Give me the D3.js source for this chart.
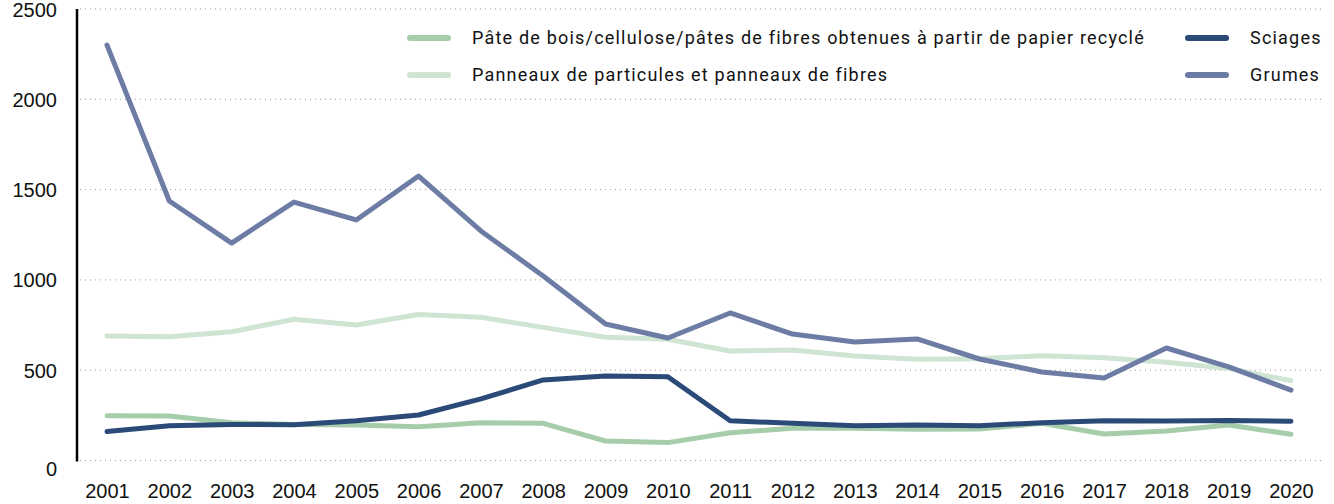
<!DOCTYPE html>
<html>
<head>
<meta charset="utf-8">
<script src="https://cdn.jsdelivr.net/npm/d3@7"></script>
<style>
  body { margin: 0; background: #fff; }
  svg { display: block; }
</style>
</head>
<body>
<div id="chart"></div>
<script>
// data
const years = [2001, 2002, 2003, 2004, 2005, 2006, 2007, 2008, 2009, 2010,
               2011, 2012, 2013, 2014, 2015, 2016, 2017, 2018, 2019, 2020];
const pate = [248, 246, 209, 200, 197, 187, 209, 206, 108, 99,
              154, 178, 178, 173, 174, 206, 147, 163, 197, 145];
const panneaux = [689, 685, 713, 782, 750, 808, 793, 737, 682, 671,
                  606, 612, 579, 560, 564, 580, 569, 544, 510, 442];
const sciages = [160, 193, 200, 198, 220, 252, 341, 446, 468, 464,
                 220, 206, 193, 197, 193, 209, 220, 219, 222, 217];
const grumes = [2300, 1437, 1204, 1431, 1332, 1575, 1271, 1022, 756, 678,
                817, 700, 656, 673, 562, 490, 457, 623, 518, 390];
const yTicks = [0, 500, 1000, 1500, 2000, 2500];

const series = [
  { name: "Panneaux de particules et panneaux de fibres", values: panneaux, color: "#cfe4d2" },
  { name: "Pâte de bois/cellulose/pâtes de fibres obtenues à partir de papier recyclé", values: pate, color: "#a5cdaa" },
  { name: "Sciages", values: sciages, color: "#2b4a78" },
  { name: "Grumes", values: grumes, color: "#6c7ca4" }
];

const width = 1334, height = 504;

const svg = d3.select("#chart")
  .append("svg")
  .attr("width", width)
  .attr("height", height);

const x = d3.scaleLinear()
  .domain([2001, 2020])
  .range([107, 1291]);

const y = d3.scaleLinear()
  .domain([0, 2500])
  .range([460.5, 9]);

// grid lines
svg.append("g")
  .selectAll("line")
  .data(yTicks)
  .enter().append("line")
  .attr("x1", 80)
  .attr("x2", 1324)
  .attr("y1", d => y(d))
  .attr("y2", d => y(d))
  .attr("stroke", "#999")
  .attr("stroke-width", 1)
  .attr("stroke-dasharray", "1,4");

// y axis
const yAxis = svg.append("g")
  .attr("transform", "translate(77,0)")
  .call(d3.axisLeft(y).tickValues(yTicks).tickFormat(d3.format("d")).tickSize(0).tickPadding(20));
yAxis.select(".domain").attr("stroke", "#000").attr("stroke-width", 2.5).attr("d", `M0,${y(2500)}V${y(0) + 1}`);
yAxis.selectAll("text")
  .attr("font-family", "Liberation Sans, Arial, sans-serif")
  .attr("font-size", 20)
  .attr("fill", "#111")
  .attr("dy", "0.35em");
yAxis.selectAll(".tick").filter(d => d === 0).select("text").attr("dy", "0.75em");

// x axis labels
const xAxis = svg.append("g")
  .attr("transform", "translate(0,460)")
  .call(d3.axisBottom(x).tickValues(years).tickFormat(d3.format("d")).tickSize(0).tickPadding(24));
xAxis.select(".domain").remove();
xAxis.selectAll("text")
  .attr("font-family", "Liberation Sans, Arial, sans-serif")
  .attr("font-size", 20)
  .attr("fill", "#111");

// lines
const line = d3.line()
  .x((d, i) => x(years[i]))
  .y(d => y(d));

svg.append("g")
  .selectAll("path")
  .data(series)
  .enter().append("path")
  .attr("d", d => line(d.values))
  .attr("fill", "none")
  .attr("stroke", d => d.color)
  .attr("stroke-width", 5)
  .attr("stroke-linejoin", "round")
  .attr("stroke-linecap", "round");

// legend
const legendItems = [
  { s: series[1], x: 410, y: 38 },
  { s: series[0], x: 410, y: 75 },
  { s: series[2], x: 1188, y: 38 },
  { s: series[3], x: 1188, y: 75 }
];

const legend = svg.append("g");
const item = legend.selectAll("g")
  .data(legendItems)
  .enter().append("g")
  .attr("transform", d => `translate(${d.x},${d.y})`);

item.append("line")
  .attr("x1", 0)
  .attr("x2", 38)
  .attr("stroke", d => d.s.color)
  .attr("stroke-width", 6)
  .attr("stroke-linecap", "round");

item.append("text")
  .attr("x", 62)
  .attr("dy", "0.35em")
  .attr("font-family", "Roboto, sans-serif")
  .attr("font-size", 18)
  .attr("letter-spacing", "1.2px")
  .attr("fill", "#111")
  .text(d => d.s.name);
</script>
</body>
</html>
